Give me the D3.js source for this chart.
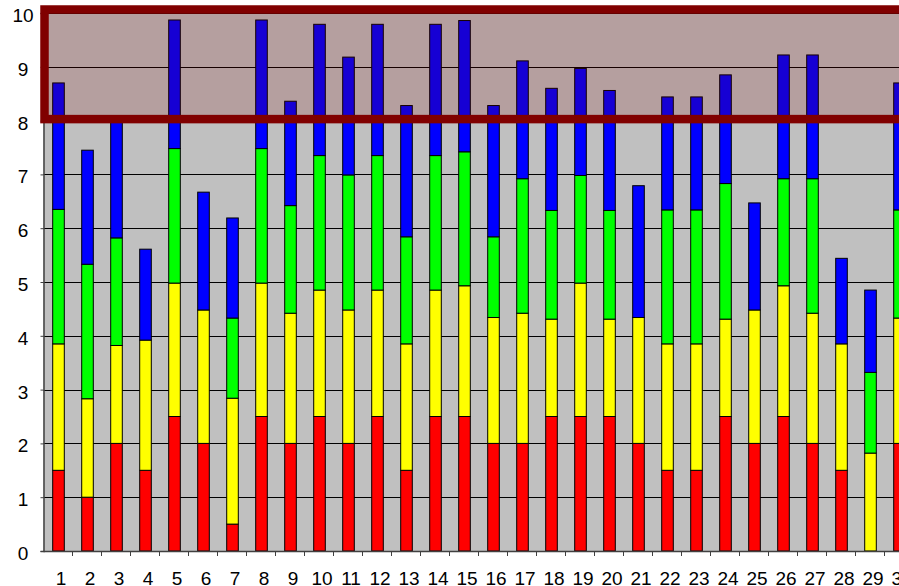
<!DOCTYPE html>
<html>
<head>
<meta charset="utf-8">
<script src="https://cdn.jsdelivr.net/npm/d3@7"></script>
<style>
  html, body { margin: 0; padding: 0; background: #fff; overflow: hidden; }
  svg { display: block; font-family: "Liberation Sans", Arial, sans-serif; }
</style>
</head>
<body>
<div id="chart"></div>
<script>
// categories 1..30 and stacked segment values, bottom to top
const categories = ["1","2","3","4","5","6","7","8","9","10","11","12","13","14","15",
  "16","17","18","19","20","21","22","23","24","25","26","27","28","29","30"];
const redValues    = [1.5, 1.0, 2.0, 1.5, 2.5, 2.0, 0.5, 2.5, 2.0, 2.5, 2.0, 2.5, 1.5, 2.5, 2.5,
  2.0, 2.0, 2.5, 2.5, 2.5, 2.0, 1.5, 1.5, 2.5, 2.0, 2.5, 2.0, 1.5, 0.0, 2.0];
const yellowValues = [2.35, 1.83, 1.82, 2.42, 2.48, 2.48, 2.34, 2.48, 2.42, 2.35, 2.48, 2.35, 2.35, 2.35, 2.43,
  2.34, 2.42, 1.81, 2.48, 1.81, 2.34, 2.35, 2.35, 1.81, 2.48, 2.43, 2.42, 2.35, 1.82, 2.33];
const greenValues  = [2.5, 2.5, 2.0, 0, 2.5, 0, 1.49, 2.5, 2.0, 2.5, 2.51, 2.5, 1.99, 2.5, 2.49,
  1.5, 2.5, 2.02, 2.0, 2.02, 0, 2.49, 2.49, 2.52, 0, 1.99, 2.5, 0, 1.5, 2.01];
const blueValues   = [2.35, 2.12, 2.18, 1.69, 2.39, 2.19, 1.86, 2.39, 1.94, 2.44, 2.19, 2.44, 2.44, 2.44, 2.44,
  2.44, 2.19, 2.27, 1.99, 2.23, 2.45, 2.1, 2.1, 2.02, 1.99, 2.3, 2.3, 1.59, 1.53, 2.36];
const seriesKeys   = ["red", "yellow", "green", "blue"];
const seriesColors = ["#ff0000", "#ffff00", "#00ff00", "#0000ff"];
const yTicks = [0, 1, 2, 3, 4, 5, 6, 7, 8, 9, 10];
const highlightBand = [8, 10];

const width = 899, height = 586;
const margin = { top: 13, left: 43.5, bottom: 35 };
const plotWidth = 29 * categories.length;
const plotHeight = height - margin.top - margin.bottom;

const rows = categories.map((c, i) => ({
  cat: c, red: redValues[i], yellow: yellowValues[i], green: greenValues[i], blue: blueValues[i]
}));
const stacked = d3.stack().keys(seriesKeys)(rows);

const x = d3.scaleBand().domain(categories).range([0, plotWidth]).padding(0);
const y = d3.scaleLinear().domain([0, 10]).range([plotHeight, 0]);
const color = d3.scaleOrdinal().domain(seriesKeys).range(seriesColors);

const svg = d3.select("#chart").append("svg")
  .attr("width", width).attr("height", height);

const g = svg.append("g").attr("transform", `translate(${margin.left},${margin.top})`);

// plot background
g.append("rect")
  .attr("width", plotWidth).attr("height", plotHeight)
  .attr("fill", "#c0c0c0");

// gridlines
g.append("g").selectAll("line")
  .data(yTicks.filter(d => d > 0))
  .join("line")
  .attr("x1", 0).attr("x2", plotWidth)
  .attr("y1", d => Math.round(y(d)) + 0.5).attr("y2", d => Math.round(y(d)) + 0.5)
  .attr("stroke", "#000").attr("stroke-width", 1);

// bars
const barW = x.bandwidth() * 0.4;
g.append("g").selectAll("g")
  .data(stacked)
  .join("g")
  .attr("fill", d => color(d.key))
  .selectAll("rect")
  .data(d => d.filter(s => s[1] - s[0] > 0))
  .join("rect")
  .attr("x", d => x(d.data.cat) + (x.bandwidth() - barW) / 2 + 0.5)
  .attr("y", d => y(d[1]))
  .attr("width", barW)
  .attr("height", d => y(d[0]) - y(d[1]))
  .attr("stroke", "#000").attr("stroke-width", 1);

// y axis
const yAxis = g.append("g")
  .call(d3.axisLeft(y).tickValues(yTicks).tickSize(3).tickPadding(0).tickFormat(d3.format("d")));
yAxis.select(".domain").attr("stroke", "#404040").attr("stroke-width", 1.5);
yAxis.selectAll(".tick line").attr("stroke", "#404040");
yAxis.selectAll(".tick text")
  .attr("x", -20.5).attr("dy", "0.45em")
  .attr("text-anchor", "middle")
  .attr("font-size", "19px").attr("fill", "#000")
  .attr("font-family", "Liberation Sans, Arial, sans-serif");

// x axis: ticks between categories
const xAxisG = g.append("g").attr("transform", `translate(0,${plotHeight})`);
xAxisG.append("line")
  .attr("x1", 0).attr("x2", plotWidth)
  .attr("y1", 0.5).attr("y2", 0.5)
  .attr("stroke", "#404040").attr("stroke-width", 1.5);
xAxisG.selectAll("line.tick")
  .data(categories)
  .join("line")
  .attr("class", "tick")
  .attr("x1", d => x(d) + x.bandwidth()).attr("x2", d => x(d) + x.bandwidth())
  .attr("y1", 0).attr("y2", 5)
  .attr("stroke", "#404040");
xAxisG.selectAll("text")
  .data(categories)
  .join("text")
  .attr("x", d => x(d) + x.bandwidth() / 2 + 3)
  .attr("y", 34)
  .attr("text-anchor", "middle")
  .attr("font-size", "19px").attr("fill", "#000")
  .text(d => d);

// highlighted range 8..10
g.append("rect")
  .attr("x", 1)
  .attr("y", y(highlightBand[1]) - 3.5)
  .attr("width", plotWidth + 20)
  .attr("height", y(highlightBand[0]) - y(highlightBand[1]) + 2)
  .attr("fill", "#800000").attr("fill-opacity", 0.17)
  .attr("stroke", "#800000").attr("stroke-width", 8.5);
</script>
</body>
</html>
